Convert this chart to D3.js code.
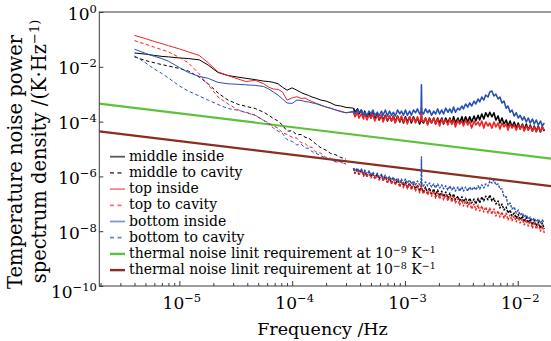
<!DOCTYPE html>
<html><head><meta charset="utf-8">
<script src="https://cdn.jsdelivr.net/npm/d3@7"></script>
<style>
body{margin:0;background:#fff;}
svg{display:block;}
text{font-family:"DejaVu Serif",serif;fill:#000;}
</style>
</head><body>
<svg id="c" width="551" height="341"></svg>
<script>
// ---------- DATA (frequency in Hz, PSD in K^2/Hz) ----------
const freqLow = [4e-6, 5e-6, 6e-6, 7e-6, 8e-6, 1e-5, 1.2e-5, 1.5e-5, 1.8e-5, 2.2e-5,
  2.7e-5, 3.3e-5, 3.9e-5, 4.7e-5, 5.6e-5, 6.2e-5, 6.8e-5, 7.5e-5, 8.2e-5, 9e-5,
  1e-4, 1.1e-4, 1.2e-4, 1.3e-4, 1.4e-4, 1.5e-4, 1.6e-4, 1.8e-4, 2.0e-4, 2.2e-4,
  2.4e-4, 2.7e-4, 3.0e-4];

const freqHigh = [3.5e-4, 3.6e-4, 3.8e-4, 3.9e-4, 4.1e-4, 4.3e-4, 4.4e-4, 4.6e-4, 4.8e-4, 5.0e-4,
  5.2e-4, 5.4e-4, 5.7e-4, 5.9e-4, 6.2e-4, 6.4e-4, 6.7e-4, 7.0e-4, 7.3e-4, 7.6e-4,
  7.9e-4, 8.2e-4, 8.6e-4, 9.0e-4, 9.3e-4, 9.7e-4, 1.01e-3, 1.05e-3, 1.1e-3, 1.14e-3,
  1.19e-3, 1.24e-3, 1.29e-3, 1.35e-3, 1.39e-3, 1.4e-3, 1.41e-3, 1.46e-3, 1.52e-3, 1.59e-3, 1.65e-3, 1.72e-3,
  1.8e-3, 1.87e-3, 1.95e-3, 2.03e-3, 2.12e-3, 2.2e-3, 2.3e-3, 2.4e-3, 2.5e-3, 2.6e-3,
  2.7e-3, 2.8e-3, 2.95e-3, 3.05e-3, 3.2e-3, 3.3e-3, 3.45e-3, 3.6e-3, 3.75e-3, 3.9e-3,
  4.1e-3, 4.25e-3, 4.45e-3, 4.6e-3, 4.8e-3, 5.0e-3, 5.2e-3, 5.45e-3, 5.65e-3, 5.9e-3,
  6.15e-3, 6.4e-3, 6.7e-3, 6.95e-3, 7.25e-3, 7.55e-3, 7.9e-3, 8.2e-3, 8.55e-3, 8.9e-3,
  9.3e-3, 9.7e-3, 1.01e-2, 1.05e-2, 1.1e-2, 1.14e-2, 1.19e-2, 1.24e-2, 1.29e-2, 1.35e-2,
  1.4e-2, 1.46e-2, 1.52e-2, 1.59e-2, 1.65e-2, 1.72e-2];

const middleInsideLow = [3.2e-2, 2.9e-2, 2.6e-2, 2.4e-2, 2.3e-2, 2.1e-2, 2.0e-2, 1.8e-2, 1.16e-2, 6.2e-3,
  4.8e-3, 4.2e-3, 3.8e-3, 3.4e-3, 3.0e-3, 2.9e-3, 2.7e-3, 2.4e-3, 1.8e-3, 1.4e-3,
  1.7e-3, 1.4e-3, 1.15e-3, 1.0e-3, 9.0e-4, 7.9e-4, 7.3e-4, 6.1e-4, 5.6e-4, 4.8e-4,
  4.0e-4, 3.7e-4, 3.3e-4];
const middleInsideHigh = [3.1e-4, 2.2e-4, 2.9e-4, 1.9e-4, 2.65e-4, 1.6e-4, 2.4e-4, 1.5e-4, 2.1e-4, 1.35e-4,
  2.1e-4, 1.24e-4, 1.9e-4, 1.14e-4, 1.7e-4, 1.14e-4, 1.7e-4, 1.05e-4, 1.6e-4, 1.05e-4,
  1.6e-4, 9.7e-5, 1.6e-4, 9.7e-5, 1.5e-4, 8.9e-5, 1.5e-4, 9.7e-5, 1.5e-4, 8.9e-5,
  1.5e-4, 9.7e-5, 1.35e-4, 8.2e-5, 1.2e-4, 1.9e-4, 1.1e-4, 8.9e-5, 1.35e-4, 8.2e-5, 1.35e-4, 8.9e-5,
  1.35e-4, 8.2e-5, 1.35e-4, 8.9e-5, 1.35e-4, 8.2e-5, 1.35e-4, 8.9e-5, 1.35e-4, 8.2e-5,
  1.5e-4, 8.9e-5, 1.35e-4, 8.9e-5, 1.5e-4, 8.9e-5, 1.5e-4, 9.7e-5, 1.5e-4, 9.7e-5,
  1.6e-4, 1.05e-4, 1.7e-4, 1.14e-4, 1.9e-4, 1.24e-4, 2.1e-4, 1.5e-4, 2.2e-4, 1.5e-4,
  2.1e-4, 1.14e-4, 1.6e-4, 8.9e-5, 1.35e-4, 8.2e-5, 1.14e-4, 6.9e-5, 1.05e-4, 6.4e-5,
  9.7e-5, 5.8e-5, 8.9e-5, 5.4e-5, 8.2e-5, 4.9e-5, 8.2e-5, 4.9e-5, 7.5e-5, 4.5e-5,
  6.9e-5, 4.5e-5, 6.9e-5, 4.2e-5, 6.4e-5, 4.5e-5];

const middleCavityLow = [2.3e-2, 1.7e-2, 1.4e-2, 1.2e-2, 1.07e-2, 8.7e-3, 7.0e-3, 4.2e-3, 2.4e-3, 1.1e-3,
  6.1e-4, 4.3e-4, 3.6e-4, 3.0e-4, 2.2e-4, 1.7e-4, 1.3e-4, 1.05e-4, 7.5e-5, 4.5e-5,
  4.6e-5, 3.3e-5, 3.4e-5, 2.7e-5, 2.5e-5, 2.0e-5, 1.6e-5, 1.1e-5, 9.0e-6, 6.8e-6,
  6.3e-6, 4.9e-6, 4.3e-6];
const middleCavityHigh = [2.0e-6, 1.3e-6, 1.9e-6, 1.2e-6, 1.7e-6, 1.1e-6, 1.6e-6, 1.0e-6, 1.45e-6, 9.5e-7,
  1.3e-6, 8.7e-7, 1.2e-6, 8.0e-7, 1.1e-6, 7.4e-7, 1.0e-6, 6.2e-7, 8.7e-7, 5.7e-7,
  8.0e-7, 5.3e-7, 7.4e-7, 4.9e-7, 6.8e-7, 4.5e-7, 6.2e-7, 4.1e-7, 5.7e-7, 3.8e-7,
  5.3e-7, 3.5e-7, 4.9e-7, 2.9e-7, 3.8e-7, 6.2e-7, 3.5e-7, 2.7e-7, 4.1e-7, 2.5e-7, 3.8e-7, 2.3e-7,
  3.5e-7, 2.1e-7, 3.2e-7, 1.9e-7, 2.9e-7, 1.8e-7, 2.7e-7, 1.6e-7, 2.5e-7, 1.5e-7,
  2.3e-7, 1.4e-7, 1.9e-7, 1.27e-7, 1.8e-7, 1.16e-7, 1.6e-7, 1.07e-7, 1.6e-7, 1.07e-7,
  1.5e-7, 9.8e-8, 1.6e-7, 1.07e-7, 1.8e-7, 1.27e-7, 1.9e-7, 1.4e-7, 2.1e-7, 1.27e-7,
  1.6e-7, 9.8e-8, 1.27e-7, 7.0e-8, 9.8e-8, 5.9e-8, 7.6e-8, 4.6e-8, 5.9e-8, 3.6e-8,
  4.6e-8, 3.0e-8, 4.2e-8, 2.6e-8, 3.6e-8, 2.2e-8, 3.3e-8, 2.0e-8, 2.8e-8, 1.7e-8,
  2.6e-8, 1.55e-8, 2.2e-8, 1.3e-8, 2.0e-8, 1.2e-8];

const topInsideLow = [1.4e-1, 1.07e-1, 8.4e-2, 7.0e-2, 5.9e-2, 4.5e-2, 3.5e-2, 2.6e-2, 1.4e-2, 6.5e-3,
  4.8e-3, 3.6e-3, 2.9e-3, 3.2e-3, 2.4e-3, 1.8e-3, 1.55e-3, 1.5e-3, 1.2e-3, 6.1e-4,
  7.3e-4, 8.1e-4, 7.0e-4, 7.3e-4, 6.1e-4, 5.4e-4, 4.8e-4, 4.0e-4, 3.4e-4, 3.1e-4,
  2.7e-4, 2.4e-4, 2.1e-4];
const topInsideHigh = [2.2e-4, 1.5e-4, 2.1e-4, 1.35e-4, 1.9e-4, 1.24e-4, 2.1e-4, 1.14e-4, 1.7e-4, 1.35e-4,
  1.9e-4, 1.05e-4, 1.7e-4, 1.24e-4, 1.7e-4, 9.7e-5, 1.6e-4, 1.14e-4, 1.6e-4, 1.05e-4,
  1.5e-4, 8.9e-5, 1.5e-4, 1.05e-4, 1.6e-4, 9.7e-5, 1.35e-4, 8.2e-5, 1.5e-4, 1.05e-4,
  1.35e-4, 8.9e-5, 1.5e-4, 9.7e-5, 1.2e-4, 3.1e-4, 1.1e-4, 9.7e-5, 1.35e-4, 7.5e-5, 1.24e-4, 8.9e-5,
  1.35e-4, 8.2e-5, 1.24e-4, 6.9e-5, 1.24e-4, 8.9e-5, 1.14e-4, 7.5e-5, 1.24e-4, 8.2e-5,
  1.14e-4, 6.4e-5, 1.14e-4, 8.2e-5, 1.05e-4, 6.9e-5, 1.14e-4, 7.5e-5, 1.05e-4, 5.8e-5,
  1.05e-4, 7.5e-5, 9.7e-5, 6.9e-5, 1.05e-4, 5.8e-5, 9.7e-5, 6.9e-5, 8.9e-5, 5.8e-5,
  9.7e-5, 6.4e-5, 8.9e-5, 5.4e-5, 8.9e-5, 6.4e-5, 8.2e-5, 4.9e-5, 8.2e-5, 5.8e-5,
  7.5e-5, 4.9e-5, 7.5e-5, 5.4e-5, 7.5e-5, 4.5e-5, 6.9e-5, 4.9e-5, 6.9e-5, 4.5e-5,
  6.4e-5, 4.2e-5, 6.4e-5, 4.5e-5, 6.4e-5, 4.9e-5];

const topCavityLow = [9.0e-2, 6.7e-2, 5.2e-2, 4.2e-2, 3.5e-2, 2.2e-2, 1.4e-2, 5.5e-3, 2.2e-3, 7.9e-4,
  4.4e-4, 2.7e-4, 2.1e-4, 1.7e-4, 1.1e-4, 8.9e-5, 6.9e-5, 5.8e-5, 3.9e-5, 3.4e-5,
  2.7e-5, 2.5e-5, 1.7e-5, 1.6e-5, 1.2e-5, 1.15e-5, 8.0e-6, 7.0e-6, 4.8e-6, 4.6e-6,
  3.4e-6, 3.3e-6, 2.7e-6];
const topCavityHigh = [1.9e-6, 1.3e-6, 1.7e-6, 1.1e-6, 1.7e-6, 1.0e-6, 1.45e-6, 9.5e-7, 1.45e-6, 8.7e-7,
  1.2e-6, 8.0e-7, 1.1e-6, 7.4e-7, 1.0e-6, 6.8e-7, 9.5e-7, 5.7e-7, 8.7e-7, 5.3e-7,
  8.0e-7, 4.9e-7, 6.8e-7, 4.1e-7, 6.8e-7, 3.8e-7, 5.7e-7, 3.5e-7, 5.3e-7, 3.2e-7,
  4.9e-7, 2.9e-7, 4.5e-7, 2.5e-7, 3.5e-7, 5.3e-7, 3.2e-7, 2.3e-7, 3.5e-7, 2.1e-7, 3.2e-7, 1.9e-7,
  2.9e-7, 1.6e-7, 2.5e-7, 1.5e-7, 2.5e-7, 1.4e-7, 2.1e-7, 1.27e-7, 1.9e-7, 1.16e-7,
  1.8e-7, 1.07e-7, 1.5e-7, 9.0e-8, 1.4e-7, 8.3e-8, 1.27e-7, 7.6e-8, 1.16e-7, 6.5e-8,
  9.8e-8, 5.9e-8, 9.0e-8, 5.5e-8, 8.3e-8, 5.0e-8, 7.6e-8, 4.6e-8, 7.0e-8, 4.2e-8,
  6.5e-8, 3.6e-8, 5.5e-8, 3.3e-8, 5.0e-8, 3.0e-8, 4.6e-8, 2.6e-8, 3.9e-8, 2.4e-8,
  3.6e-8, 2.2e-8, 3.3e-8, 2.0e-8, 2.8e-8, 1.7e-8, 2.6e-8, 1.55e-8, 2.4e-8, 1.3e-8,
  2.2e-8, 1.2e-8, 1.8e-8, 1.0e-8, 1.55e-8, 8.6e-9];

const bottomInsideLow = [4.4e-2, 3.1e-2, 2.4e-2, 2.0e-2, 1.6e-2, 9.4e-3, 6.2e-3, 4.5e-3, 3.8e-3, 2.7e-3,
  2.4e-3, 2.3e-3, 2.2e-3, 2.1e-3, 1.9e-3, 1.55e-3, 1.2e-3, 9.3e-4, 6.7e-4, 4.8e-4,
  4.6e-4, 6.1e-4, 5.9e-4, 5.4e-4, 5.2e-4, 4.8e-4, 4.6e-4, 3.9e-4, 3.4e-4, 3.0e-4,
  2.7e-4, 2.3e-4, 2.1e-4];
const bottomInsideHigh = [2.4e-4, 1.9e-4, 2.65e-4, 2.1e-4, 2.65e-4, 1.7e-4, 2.2e-4, 1.6e-4, 2.4e-4, 1.9e-4,
  2.65e-4, 1.7e-4, 2.2e-4, 1.6e-4, 2.4e-4, 1.7e-4, 2.65e-4, 1.6e-4, 2.4e-4, 1.7e-4,
  2.2e-4, 1.6e-4, 2.65e-4, 1.9e-4, 2.4e-4, 1.7e-4, 2.65e-4, 1.7e-4, 2.4e-4, 1.7e-4,
  2.65e-4, 2.1e-4, 2.9e-4, 1.9e-4, 2.3e-4, 2.2e-3, 2.3e-4, 1.9e-4, 2.9e-4, 2.1e-4, 2.65e-4, 1.7e-4,
  2.4e-4, 1.9e-4, 2.9e-4, 1.9e-4, 2.65e-4, 1.9e-4, 3.1e-4, 2.2e-4, 2.9e-4, 2.1e-4,
  3.4e-4, 2.2e-4, 3.1e-4, 2.65e-4, 3.7e-4, 2.9e-4, 4.4e-4, 3.4e-4, 4.8e-4, 3.7e-4,
  5.6e-4, 4.4e-4, 6.7e-4, 5.2e-4, 7.9e-4, 6.1e-4, 9.3e-4, 7.9e-4, 1.2e-3, 1.3e-3,
  8.6e-4, 1.0e-3, 6.7e-4, 7.9e-4, 4.8e-4, 5.6e-4, 3.1e-4, 3.7e-4, 2.2e-4, 2.65e-4,
  1.6e-4, 2.1e-4, 1.35e-4, 1.7e-4, 1.14e-4, 1.5e-4, 9.7e-5, 1.35e-4, 8.9e-5, 1.24e-4,
  8.2e-5, 1.14e-4, 7.5e-5, 1.05e-4, 6.9e-5, 8.9e-5];

const bottomCavityLow = [2.5e-2, 1.4e-2, 8.3e-3, 5.7e-3, 3.9e-3, 2.0e-3, 1.3e-3, 8.6e-4, 6.1e-4, 4.2e-4,
  3.0e-4, 2.6e-4, 2.2e-4, 1.7e-4, 1.1e-4, 8.2e-5, 5.9e-5, 4.5e-5, 3.7e-5, 2.2e-5,
  1.9e-5, 1.4e-5, 1.5e-5, 1.1e-5, 1.05e-5, 8.0e-6, 7.3e-6, 5.6e-6, 4.7e-6, 4.2e-6,
  3.5e-6, 3.5e-6, 2.8e-6];
const bottomCavityHigh = [2.0e-6, 1.6e-6, 2.0e-6, 1.45e-6, 1.9e-6, 1.3e-6, 1.7e-6, 1.2e-6, 1.6e-6, 1.1e-6,
  1.45e-6, 1.0e-6, 1.3e-6, 9.5e-7, 1.2e-6, 8.7e-7, 1.1e-6, 8.0e-7, 1.0e-6, 7.4e-7,
  9.5e-7, 6.8e-7, 8.7e-7, 6.2e-7, 8.0e-7, 5.7e-7, 8.0e-7, 5.7e-7, 7.4e-7, 5.3e-7,
  6.8e-7, 4.9e-7, 6.8e-7, 4.9e-7, 5.7e-7, 5.1e-6, 5.3e-7, 4.5e-7, 6.2e-7, 4.5e-7, 5.7e-7, 4.1e-7,
  5.3e-7, 3.8e-7, 5.3e-7, 3.8e-7, 4.9e-7, 3.5e-7, 4.5e-7, 3.2e-7, 4.5e-7, 3.2e-7,
  4.1e-7, 2.9e-7, 4.1e-7, 2.9e-7, 4.1e-7, 2.9e-7, 4.1e-7, 2.9e-7, 4.1e-7, 3.2e-7,
  4.1e-7, 3.2e-7, 4.5e-7, 3.5e-7, 4.9e-7, 3.8e-7, 5.3e-7, 4.5e-7, 6.8e-7, 5.7e-7,
  7.4e-7, 4.9e-7, 5.3e-7, 3.5e-7, 3.5e-7, 1.8e-7, 1.8e-7, 9.0e-8, 1.07e-7, 6.5e-8,
  7.6e-8, 4.6e-8, 5.9e-8, 3.9e-8, 4.6e-8, 3.3e-8, 3.9e-8, 2.8e-8, 3.3e-8, 2.4e-8,
  3.0e-8, 2.2e-8, 2.8e-8, 2.0e-8, 2.6e-8, 2.0e-8];

// thermal noise limit requirement lines (two end points each)
const reqFreq = [1.95e-6, 2e-2];
const reqAt1e9 = [4.5e-4, 4.45e-6];
const reqAt1e8 = [4.4e-5, 4.4e-7];

// tick labels (powers of ten)
const xTickExponents = [-5, -4, -3, -2];
const yTickExponents = [0, -2, -4, -6, -8, -10];

const legendLabels = ['middle inside', 'middle to cavity', 'top inside', 'top to cavity',
  'bottom inside', 'bottom to cavity',
  'thermal noise linit requirement at 10^−9 K^−1',
  'thermal noise linit requirement at 10^−8 K^−1'];

// ---------- CHART ----------
const svg = d3.select('#c');
const L = 99.3, R = 551.7, T = 12, B = 286;
const x = d3.scaleLog().domain([1.95e-6, 2e-2]).range([L, R]);
const y = d3.scaleLog().domain([1e-10, 1]).range([B, T]);
const line = d3.line().x(d => x(d[0])).y(d => y(d[1]));

svg.append('defs').append('clipPath').attr('id', 'clip')
  .append('rect').attr('x', L).attr('y', T).attr('width', R - L).attr('height', B - T);
const plot = svg.append('g').attr('clip-path', 'url(#clip)');

const GREEN = '#5dc23b', BROWN = '#8c2c1e';
const BLACK = '#000', RED = '#f02424', BLUE = '#2751b3';

// requirement lines
plot.append('path').datum(d3.zip(reqFreq, reqAt1e9)).attr('d', line)
  .attr('fill', 'none').attr('stroke', GREEN).attr('stroke-width', 2.2);
plot.append('path').datum(d3.zip(reqFreq, reqAt1e8)).attr('d', line)
  .attr('fill', 'none').attr('stroke', BROWN).attr('stroke-width', 2.2);

const series = [
  {low: middleInsideLow, high: middleInsideHigh, color: BLACK, dashed: false},
  {low: middleCavityLow, high: middleCavityHigh, color: BLACK, dashed: true},
  {low: topInsideLow, high: topInsideHigh, color: RED, dashed: false},
  {low: topCavityLow, high: topCavityHigh, color: RED, dashed: true},
  {low: bottomInsideLow, high: bottomInsideHigh, color: BLUE, dashed: false},
  {low: bottomCavityLow, high: bottomCavityHigh, color: BLUE, dashed: true}
];

series.forEach(s => {
  const lowPts = d3.zip(freqLow, s.low);
  const highPts = d3.zip(freqHigh, s.high);
  // low-frequency part (smooth spectrum)
  plot.append('path').datum(s.dashed ? lowPts : lowPts.concat([highPts[0]])).attr('d', line)
    .attr('fill', 'none').attr('stroke', s.color).attr('stroke-width', 1)
    .attr('stroke-linejoin', 'round')
    .attr('stroke-dasharray', s.dashed ? '3.5,2.5' : null);
  // high-frequency part (dense, noisy spectrum)
  plot.append('path').datum(highPts).attr('d', line)
    .attr('fill', 'none').attr('stroke', s.color)
    .attr('stroke-width', s.dashed ? 1.4 : 1.6)
    .attr('stroke-linejoin', 'round')
    .attr('stroke-dasharray', s.dashed ? '2.5,1.2' : null);
});

// frame
const AX = '#3a3a3a';
svg.append('rect').attr('x', L).attr('y', T).attr('width', R - L).attr('height', B - T)
  .attr('fill', 'none').attr('stroke', AX).attr('stroke-width', 1);

function supText(sel, str, supSize, raise) {
  const parts = str.split(/\^(\S+)/);
  parts.forEach((p, i) => {
    if (p === '') return;
    if (i % 2 === 1) {
      sel.append('tspan').attr('font-size', supSize).attr('dy', -raise).text(p);
    } else {
      const t = sel.append('tspan').text(p);
      if (i > 0) t.attr('dy', raise);
    }
  });
}

// x axis
const allX = x.ticks();
const xMajor = xTickExponents.map(e => Math.pow(10, e));
const xMinor = allX.filter(v => !xMajor.some(m => Math.abs(m - v) / m < 1e-6));
const gxMinor = svg.append('g').attr('transform', `translate(0,${B})`)
  .call(d3.axisBottom(x).tickValues(xMinor).tickSize(-3).tickFormat(''));
const gx = svg.append('g').attr('transform', `translate(0,${B})`)
  .call(d3.axisBottom(x).tickValues(xMajor).tickSize(-5).tickPadding(11).tickFormat(''));
[gxMinor, gx].forEach(g => { g.select('.domain').remove(); g.selectAll('line').attr('stroke', AX); });
gx.selectAll('.tick text').each(function(d, i) {
  const t = d3.select(this).attr('font-size', 17).attr('font-family', 'DejaVu Serif').attr('dx', 2);
  supText(t, '10^' + (xTickExponents[i] === 0 ? '0' : '\u2212' + Math.abs(xTickExponents[i])), 11.5, 7);
});

// y axis
const yMajor = yTickExponents.map(e => Math.pow(10, e));
const gy = svg.append('g').attr('transform', `translate(${L},0)`)
  .call(d3.axisLeft(y).tickValues(yMajor).tickSize(-4).tickPadding(2.5).tickFormat(''));
gy.select('.domain').remove();
gy.selectAll('line').attr('stroke', AX);
gy.selectAll('.tick text').each(function(d, i) {
  const e = yTickExponents[i];
  const t = d3.select(this).attr('font-size', 17).attr('font-family', 'DejaVu Serif')
    .attr('dy', e === -10 ? '0.7em' : '0.42em');
  supText(t, '10^' + (e === 0 ? '0' : '\u2212' + Math.abs(e)), 11.5, 7);
});

// axis titles
svg.append('text').attr('x', 322.5).attr('y', 335).attr('text-anchor', 'middle')
  .attr('font-size', 17.5).text('Frequency /Hz');
const yt1 = svg.append('text').attr('transform', 'translate(22,162) rotate(-90)')
  .attr('text-anchor', 'middle').attr('font-size', 19.5).text('Temperature noise power');
const yt2 = svg.append('text').attr('transform', 'translate(45.5,151.5) rotate(-90)')
  .attr('text-anchor', 'middle').attr('font-size', 19.5);
supText(yt2, 'spectrum density /(K\u00b7Hz^\u22121)', 13, 7);

// legend
const legendStyles = [
  {color: BLACK, dashed: false, op: 0.65, w: 1.8},
  {color: BLACK, dashed: true, op: 0.65, w: 1.8},
  {color: RED, dashed: false, op: 0.55, w: 1.8},
  {color: RED, dashed: true, op: 0.65, w: 1.8},
  {color: BLUE, dashed: false, op: 0.6, w: 1.8},
  {color: BLUE, dashed: true, op: 0.7, w: 1.8},
  {color: GREEN, dashed: false, op: 1, w: 2.4},
  {color: BROWN, dashed: false, op: 1, w: 2.4}
];
const lg = svg.append('g');
legendLabels.forEach((lab, i) => {
  const base = 160.7 + 16.2 * i;
  const st = legendStyles[i];
  lg.append('line').attr('x1', 110).attr('x2', 125).attr('y1', base - 4).attr('y2', base - 4)
    .attr('stroke', st.color).attr('stroke-width', st.w).attr('stroke-opacity', st.op)
    .attr('stroke-dasharray', st.dashed ? '4,3.5' : null);
  const t = lg.append('text').attr('x', 129).attr('y', base).attr('font-size', 14);
  supText(t, lab, 9.5, 5);
});
</script>
</body></html>
